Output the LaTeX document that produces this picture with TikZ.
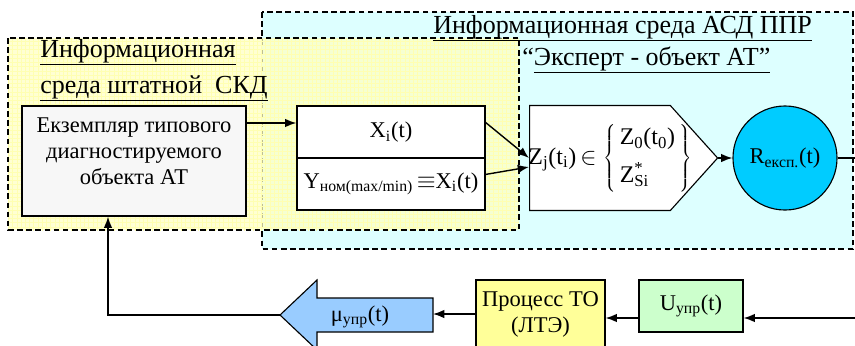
\documentclass[tikz,border=0pt]{standalone}
\usepackage{fontspec}
\setmainfont{Liberation Serif}
\usetikzlibrary{shapes}
\usetikzlibrary{patterns}
\usetikzlibrary{positioning}
\usetikzlibrary{arrows.meta}
\definecolor{envcyan}{HTML}{DDFFFF}
\definecolor{envyellow}{HTML}{FFFFC4}
\definecolor{boxgreen}{HTML}{CCFFCC}
\definecolor{boxyellow}{HTML}{FFFF99}
\definecolor{arrowblue}{HTML}{99CCFF}
\definecolor{circcyan}{HTML}{00CCFF}
\tikzset{
    envbox/.style = {draw=black,line width=0.8pt,dash pattern=on 4pt off 2.5pt},
    envtitle/.style = {anchor=base west,inner sep=0pt,font=\fontsize{18.5}{22}\selectfont},
    blockbox/.style = {rectangle,draw=black,line width=0.8pt,fill=white,font=\fontsize{16}{18.5}\selectfont},
    edgen/.style = {-{Latex[length=8pt,width=6pt]},line width=1pt},
    edgel/.style = {line width=1pt}
}
\begin{document}
\begin{tikzpicture}[x=0.025cm,y=-0.025cm]
\useasboundingbox (0,0) rectangle (855,345);
%
% environments
\path[envbox,fill=envcyan] (262,12) rectangle (853,249);
\path[fill=envyellow,fill opacity=0.75] (8,38) rectangle (519,230);
\path[pattern=grid,pattern color=yellow!30] (8,38) rectangle (519,230);
\path[envbox] (8,38) rectangle (519,230);
\node[envtitle] (t1) at (40,57) {\underline{Информационная}};
\node[envtitle] (t2) at (40,93) {\underline{среда штатной\ \ СКД}};
\node[envtitle] (t3) at (433,33) {\underline{Информационная среда АСД ППР}};
\node[envtitle] (t4) at (522,65) {“\underline{Эксперт - объект АТ\symbol{"22}}};
%
% upper row
\node[blockbox,fill=gray!6,minimum width=5.6cm,minimum height=2.75cm] (obj) at (134,161) {};
\node[align=center,font=\fontsize{16}{18.5}\selectfont] (objtext) at (134,151) {Екземпляр типового\\диагностируемого\\объекта АТ};
\node[blockbox,minimum width=4.7cm,minimum height=1.3cm] (xtop) at (391,132) {X\textsubscript{i}(t)};
\node[blockbox,minimum width=4.7cm,minimum height=1.3cm] (xbot) at (391,184) {Y\textsubscript{ном(max/min)}\,$\equiv$X\textsubscript{i}(t)};
\node[blockbox,signal,signal to=east,signal pointer angle=96,minimum width=4.7cm,minimum height=2.625cm,anchor=west] (zset) at (529,158) {};
\node[font=\fontsize{17}{20}\selectfont,inner sep=0pt] (zlabel) at (610,158) {Z\textsubscript{j}(t\textsubscript{i})\,$\in\left\{\begin{tabular}{@{\,}l@{\,}}Z\textsubscript{0}(t\textsubscript{0})\\[7pt]Z\rlap{\textsuperscript{*}}\textsubscript{Si}\end{tabular}\right\}$};
\node[blockbox,circle,fill=circcyan,minimum size=2.6cm,inner sep=0pt] (r) at (785,158) {R\textsubscript{експ.}(t)};
\coordinate (rout) at (860,158);
%
% lower row
\coordinate (mutip) at (280,315);
\coordinate (mutail) at (433,315);
\draw[blockbox,fill=arrowblue] (mutip) -- (317,280) -- (317,298) -- (433,298) -- (433,332) -- (317,332) -- (317,350) -- cycle;
\node[font=\fontsize{16}{18.5}\selectfont] (mu) at (360,317) {μ\textsubscript{упр}(t)};
\node[blockbox,fill=boxyellow,minimum width=3.225cm,minimum height=1.7cm,align=center] (proc) at (540.5,314) {Процесс ТО\\(ЛТЭ)};
\node[blockbox,fill=boxgreen,minimum width=2.6cm,minimum height=1.3cm] (u) at (691,306) {U\textsubscript{упр}(t)\hspace{0.35cm}};
\coordinate (uin) at (860,318);
%
\draw[edgen] ([yshift=0.225cm]xtop.west -| obj.east) -- ([yshift=0.225cm]xtop.west);
\draw[edgen] ([yshift=-0.425cm]xtop.north east) -- (zset.west);
\draw[edgen] ([yshift=-0.425cm]xbot.north east) -- ([yshift=-0.225cm]zset.west);
\draw[edgen] (zset.east) -- (r.west);
\draw[edgel] (r.east) -- (rout);
\draw[edgen] (uin) -- (uin -| u.east);
\draw[edgen] ([yshift=-0.3cm]u.west) -- ([yshift=-0.3cm]u.west -| proc.east);
\draw[edgen] (proc.west) -- (proc.west -| mutail);
\draw[edgen] (mutip) -| ([xshift=-0.65cm]obj.south);

\end{tikzpicture}
\end{document}
